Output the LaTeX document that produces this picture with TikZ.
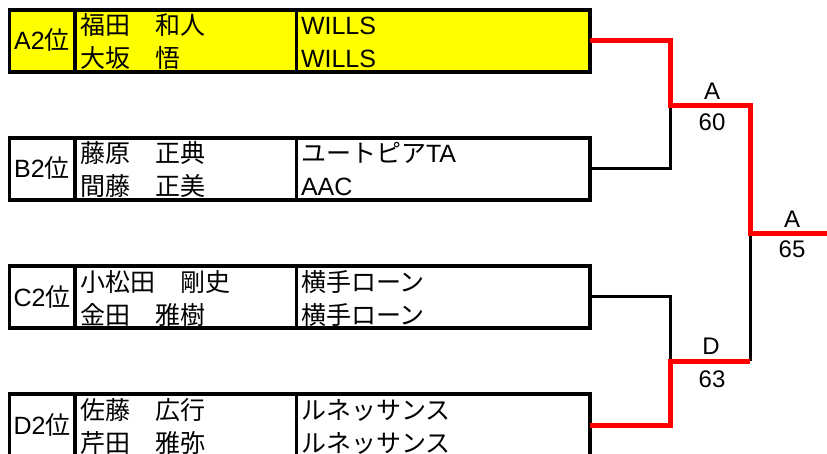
\documentclass[tikz,border=0pt]{standalone}
\usepackage{fontspec}
\setmainfont{Liberation Sans}
\newfontfamily\jp{Noto Sans CJK JP}
\newcommand\J[1]{{\jp #1}}
\newcommand\pbox[8]{%
  \node[cell, fill=#3, minimum width=65.5pt]  (#1r) at (42.25,#2) {};
  \node[cell, fill=#3, minimum width=221.5pt] (#1n) at (185.75,#2) {};
  \node[cell, fill=#3, minimum width=293.5pt] (#1t) at (443.25,#2) {};
  \node[txt, anchor=base] (#1rk) at (42,{#2+9}) {#4};
  \node[txt, anchor=base west] (#1na) at (80,{#2-6}) {#5};
  \node[txt, anchor=base west] (#1nb) at (80,{#2+27}) {#6};
  \node[txt, anchor=base west] (#1ta) at (301,{#2-6}) {#7};
  \node[txt, anchor=base west] (#1tb) at (301,{#2+27}) {#8};
}
\definecolor{winred}{RGB}{255,0,0}
\definecolor{hilite}{RGB}{255,255,0}
\begin{document}
\begin{tikzpicture}[x=1pt,y=-1pt,
  cell/.style={draw=black, line width=3.3pt, inner sep=0pt, outer sep=0pt, minimum height=62pt},
  txt/.style={inner sep=0pt, outer sep=0pt, font=\fontsize{25pt}{30pt}\selectfont},
  lbl/.style={inner sep=0pt, outer sep=0pt, font=\fontsize{24pt}{28pt}\selectfont, anchor=base},
  win/.style={draw=winred, line width=5pt},
  lose/.style={draw=black, line width=3pt}]
\useasboundingbox (0,0) rectangle (827,454);
\clip (0,0) rectangle (827,454);

\pbox{A}{41}{hilite}{A2\J{位}}{\J{福田　和人}}{\J{大坂　悟}}{WILLS}{WILLS}
\pbox{B}{169}{white}{B2\J{位}}{\J{藤原　正典}}{\J{間藤　正美}}{\J{ユートピア}TA}{AAC}
\pbox{C}{297}{white}{C2\J{位}}{\J{小松田　剛史}}{\J{金田　雅樹}}{\J{横手ローン}}{\J{横手ローン}}
\pbox{D}{425}{white}{D2\J{位}}{\J{佐藤　広行}}{\J{芹田　雅弥}}{\J{ルネッサンス}}{\J{ルネッサンス}}

\coordinate (jAB) at (670,106);
\coordinate (sAB) at (750,106);
\coordinate (jCD) at (670,361);
\coordinate (sCD) at (750,361);
\coordinate (jF) at (750,234);
\coordinate (champ) at (830,234);

\draw[lose] (Bt.east) -| (jAB);
\draw[lose] (Ct.east) -| (jCD);
\draw[lose] (sCD) -- (jF);
\draw[win] (At.east) -| (jAB) -- (sAB) -- (jF) -- (champ);
\draw[win] (Dt.east) -| (jCD) -- (sCD);

\node[lbl] (w1) at (712,100) {A};
\node[lbl] (s1) at (712,131) {60};
\node[lbl] (w2) at (711,354) {D};
\node[lbl] (s2) at (712,387) {63};
\node[lbl] (w3) at (792,228) {A};
\node[lbl] (s3) at (792,258) {65};
\end{tikzpicture}
\end{document}
